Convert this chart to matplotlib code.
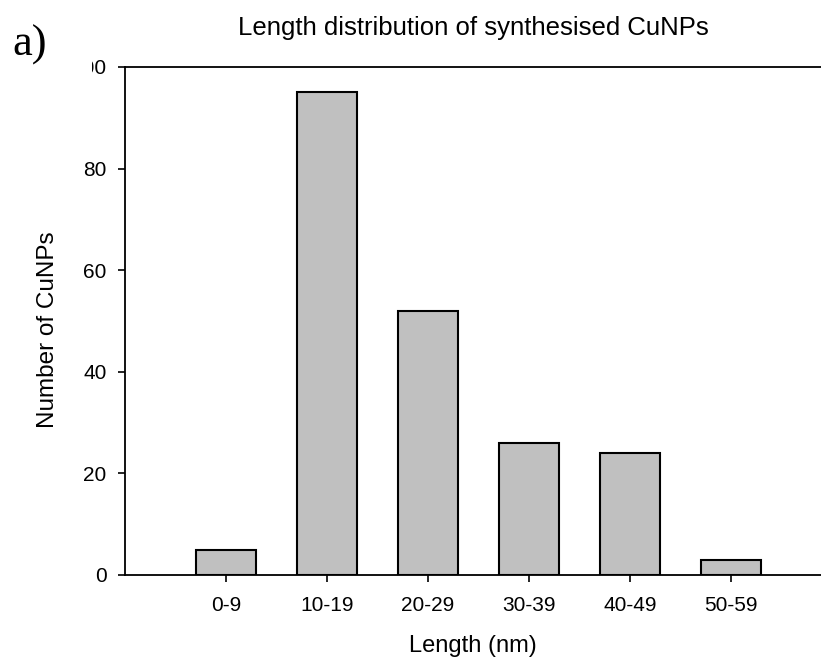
import matplotlib
matplotlib.use("Agg")
import matplotlib.pyplot as plt
from matplotlib.patches import Rectangle

# data
categories = ["0-9", "10-19", "20-29", "30-39", "40-49", "50-59"]
counts = [5, 95, 52, 26, 24, 3]
y_ticks = [0, 20, 40, 60, 80, 100]

plt.rcParams["font.family"] = ["Liberation Sans", "DejaVu Sans"]

W, H = 821, 661
fig = plt.figure(figsize=(W / 100, H / 100), dpi=100)
ax = fig.add_axes([125 / W, (H - 575) / H, 1 - 125 / W, (575 - 67) / H])

x = list(range(len(categories)))
ax.bar(x, counts, width=0.6, color="#c0c0c0", edgecolor="black", linewidth=1.5, zorder=2)

ax.set_xlim(-1, 5.89)
ax.set_ylim(0, 100)
ax.set_xticks(x)
ax.set_xticklabels(categories)
ax.set_yticks(y_ticks)
ax.tick_params(direction="out", length=5.3, width=1.2, labelsize=15, pad=8)
ax.tick_params(axis="x", pad=10)

for side in ["left", "top", "bottom"]:
    ax.spines[side].set_linewidth(1.3)
ax.spines["right"].set_visible(False)

ax.set_xlabel("Length (nm)", fontsize=17, labelpad=14)
ax.set_ylabel("Number of CuNPs", fontsize=17.5, labelpad=9, y=0.482)
ax.set_title("Length distribution of synthesised CuNPs", fontsize=18.5, pad=23)

# the panel label covers part of the top tick label, as in the original
fig.patches.append(Rectangle((0, 1 - 80 / H), 92 / W, 30 / H, transform=fig.transFigure,
                             facecolor="white", edgecolor="none", zorder=5))
fig.text(12 / W, 1 - 45 / H, "a)", family="Liberation Serif", fontsize=32,
         va="center", ha="left", zorder=6)

fig.savefig("out.png", dpi=100)
